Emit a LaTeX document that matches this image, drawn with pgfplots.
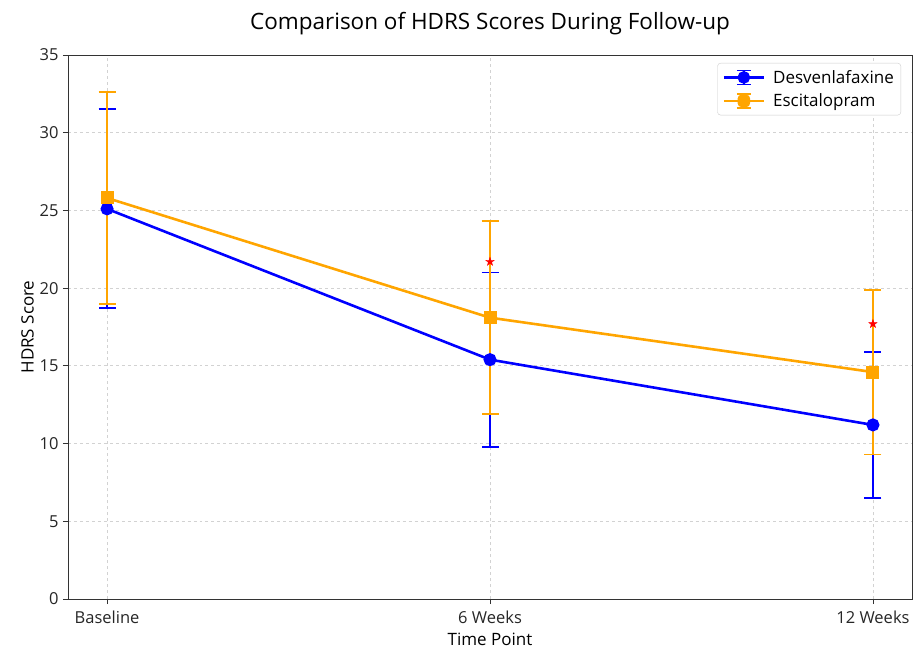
\documentclass[border=0pt]{standalone}
\usepackage{pgfplots}
\pgfplotsset{compat=1.18}
\usepackage{fontspec}
\setmainfont{Open Sans}
\usetikzlibrary{plotmarks}

\pgfdeclareplotmark{fstar}{%
  \pgfpathmoveto{\pgfqpointpolar{90}{\pgfplotmarksize}}%
  \pgfpathlineto{\pgfqpointpolar{126}{0.4\pgfplotmarksize}}%
  \pgfpathlineto{\pgfqpointpolar{162}{\pgfplotmarksize}}%
  \pgfpathlineto{\pgfqpointpolar{198}{0.4\pgfplotmarksize}}%
  \pgfpathlineto{\pgfqpointpolar{234}{\pgfplotmarksize}}%
  \pgfpathlineto{\pgfqpointpolar{270}{0.4\pgfplotmarksize}}%
  \pgfpathlineto{\pgfqpointpolar{306}{\pgfplotmarksize}}%
  \pgfpathlineto{\pgfqpointpolar{342}{0.4\pgfplotmarksize}}%
  \pgfpathlineto{\pgfqpointpolar{18}{\pgfplotmarksize}}%
  \pgfpathlineto{\pgfqpointpolar{54}{0.4\pgfplotmarksize}}%
  \pgfpathclose
  \pgfusepathqfillstroke
}

\definecolor{mplorange}{RGB}{255,165,0}
\definecolor{gridgray}{RGB}{210,210,210}

\begin{document}
\begin{tikzpicture}
\path[use as bounding box] (0bp,0bp) rectangle (914bp,648bp);
\begin{axis}[
  at={(68bp,49bp)}, anchor=south west,
  scale only axis, width=844bp, height=544bp,
  xmin=-0.102, xmax=2.102, ymin=0, ymax=35,
  xtick={0,1,2}, xticklabels={Baseline,6 Weeks,12 Weeks},
  ytick={0,5,10,15,20,25,30,35},
  grid=major, grid style={dashed, gridgray, line width=0.8bp},
  tick align=outside, tick pos=left,
  major tick length=5bp,
  tick style={line width=0.8bp, black!80},
  axis line style={line width=0.9bp, black!80},
  /pgf/number format/assume math mode=true,
  tick label style={font=\fontsize{16.5bp}{19bp}\selectfont, text=black!85},
  xticklabel style={yshift=-3bp},
  yticklabel style={xshift=-1bp},
  title={Comparison of HDRS Scores During Follow-up},
  title style={font=\fontsize{22.5bp}{26bp}\selectfont, at={(0.5,1)}, anchor=south, yshift=11bp},
  xlabel={Time Point}, ylabel={HDRS Score},
  label style={font=\fontsize{17bp}{20bp}\selectfont},
  xlabel style={yshift=-3bp},
  ylabel style={yshift=-1bp},
  legend style={at={(1,1)}, anchor=north east, xshift=-11bp, yshift=-8bp,
    draw=black!20, rounded corners=3bp, font=\fontsize{17bp}{20bp}\selectfont,
    row sep=5bp, inner xsep=5bp, inner ysep=5bp,
    /tikz/every odd column/.append style={column sep=6bp}},
  legend cell align=left,
]
\addplot[blue, line width=2.6bp, mark=*, mark size=5.2bp, mark options={solid, fill=blue},
  legend image code/.code={
    \draw[blue, line width=2.6bp] (0bp,0bp)--(40bp,0bp);
    \draw[blue, line width=1.8bp] (20bp,-7bp)--(20bp,7bp) (13bp,7bp)--(27bp,7bp) (13bp,-7bp)--(27bp,-7bp);
    \fill[blue] (20bp,0bp) circle (5bp);
  },
  error bars/.cd, y dir=both, y explicit,
  error bar style={line width=1.8bp, blue},
  error mark options={rotate=90, line width=1.8bp, mark size=8.5bp, blue},
  ] coordinates {
  (0,25.1) +- (0,6.4)
  (1,15.4) +- (0,5.6)
  (2,11.2) +- (0,4.7)
};
\addlegendentry{Desvenlafaxine}
\addplot[mplorange, line width=2.6bp, mark=square*, mark size=5.2bp, mark options={solid, fill=mplorange},
  legend image code/.code={
    \draw[mplorange, line width=2.6bp] (0bp,0bp)--(40bp,0bp);
    \draw[mplorange, line width=1.8bp] (20bp,-7bp)--(20bp,7bp) (13bp,7bp)--(27bp,7bp) (13bp,-7bp)--(27bp,-7bp);
    \fill[mplorange] (15bp,-5bp) rectangle (25bp,5bp);
  },
  error bars/.cd, y dir=both, y explicit,
  error bar style={line width=1.8bp, mplorange},
  error mark options={rotate=90, line width=1.8bp, mark size=8.5bp, mplorange},
  ] coordinates {
  (0,25.8) +- (0,6.8)
  (1,18.1) +- (0,6.2)
  (2,14.6) +- (0,5.3)
};
\addlegendentry{Escitalopram}
\addplot[only marks, red, mark=fstar, mark size=4.5bp, mark options={fill=red, line width=0.3bp}, forget plot]
  coordinates {(1,21.7) (2,17.7)};
\end{axis}
\end{tikzpicture}
\end{document}
